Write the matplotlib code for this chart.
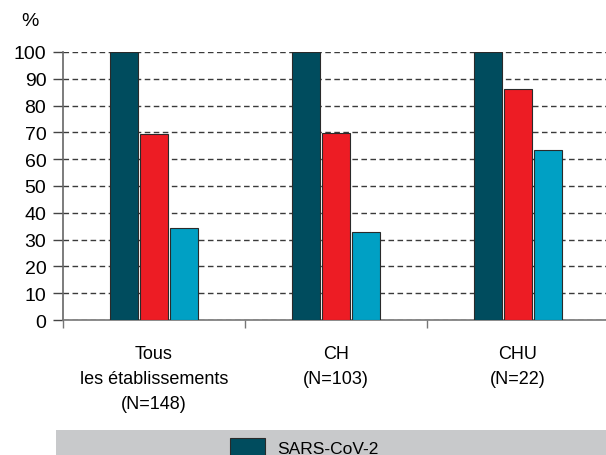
import matplotlib
matplotlib.use("Agg")
import matplotlib.pyplot as plt
from matplotlib.patches import Rectangle
import numpy as np

plt.rcParams['font.family'] = ['Liberation Sans Narrow', 'Liberation Sans', 'DejaVu Sans']

categories = ["Tous\nles établissements\n(N=148)", "CH\n(N=103)", "CHU\n(N=22)"]
sars_cov2 = [100, 100, 100]
serie_2 = [69.5, 69.7, 86.2]
serie_3 = [34.3, 33.0, 63.5]
colors = ["#004C5E", "#ED1C24", "#00A0C4"]
yticks = list(range(0, 101, 10))

fig = plt.figure(figsize=(6.06, 4.56), dpi=100)
ax = fig.add_axes([63/606, 135/456, 546/606, 268/456])

x = np.arange(len(categories))
w = 0.152
off = 0.165
for i, (vals, c) in enumerate(zip([sars_cov2, serie_2, serie_3], colors)):
    b = ax.bar(x + (i - 1) * off, vals, w, color=c, edgecolor="#2a2a2a", linewidth=0.8, zorder=3)
    if i == 0:
        legend_handle = b

ax.set_xlim(-0.5, 2.5)
ax.set_ylim(0, 100)
ax.set_yticks(yticks)
ax.set_yticklabels([str(t) for t in yticks], fontsize=14)
ax.yaxis.grid(True, linestyle=(0, (4, 2.5)), color="#3a3a3a", linewidth=1.0, zorder=0)
ax.set_axisbelow(True)

ax.set_xticks([-0.5, 0.5, 1.5])
ax.set_xticklabels([])
ax.tick_params(axis="x", direction="out", length=6, color="#777777", width=1)
ax.tick_params(axis="y", direction="out", length=7, color="#444444", width=1, pad=5)
for i, lab in enumerate(categories):
    ax.text(i, -9.5, lab, ha="center", va="top", fontsize=13, linespacing=1.6,
            transform=ax.transData, clip_on=False)

for s in ["top", "right"]:
    ax.spines[s].set_visible(False)
ax.spines["left"].set_color("#666666")
ax.spines["bottom"].set_color("#777777")
ax.spines["left"].set_linewidth(1.2)
ax.spines["bottom"].set_linewidth(1.2)

fig.text(30/606, 1 - 22/456, "%", fontsize=14, ha="center", va="center")

fig.patches.append(Rectangle((56/606, 0), 1, 25/456, transform=fig.transFigure,
                             facecolor="#C8C9CB", edgecolor="none", zorder=0))
fig.legend([legend_handle], ["SARS-CoV-2"], loc="upper left", bbox_to_anchor=(230/606, 1 - 439/456),
           frameon=False, fontsize=12.5, handlelength=2.0, handleheight=1.3, handletextpad=0.7,
           borderaxespad=0, borderpad=0)

fig.savefig("out.png", dpi=100)
